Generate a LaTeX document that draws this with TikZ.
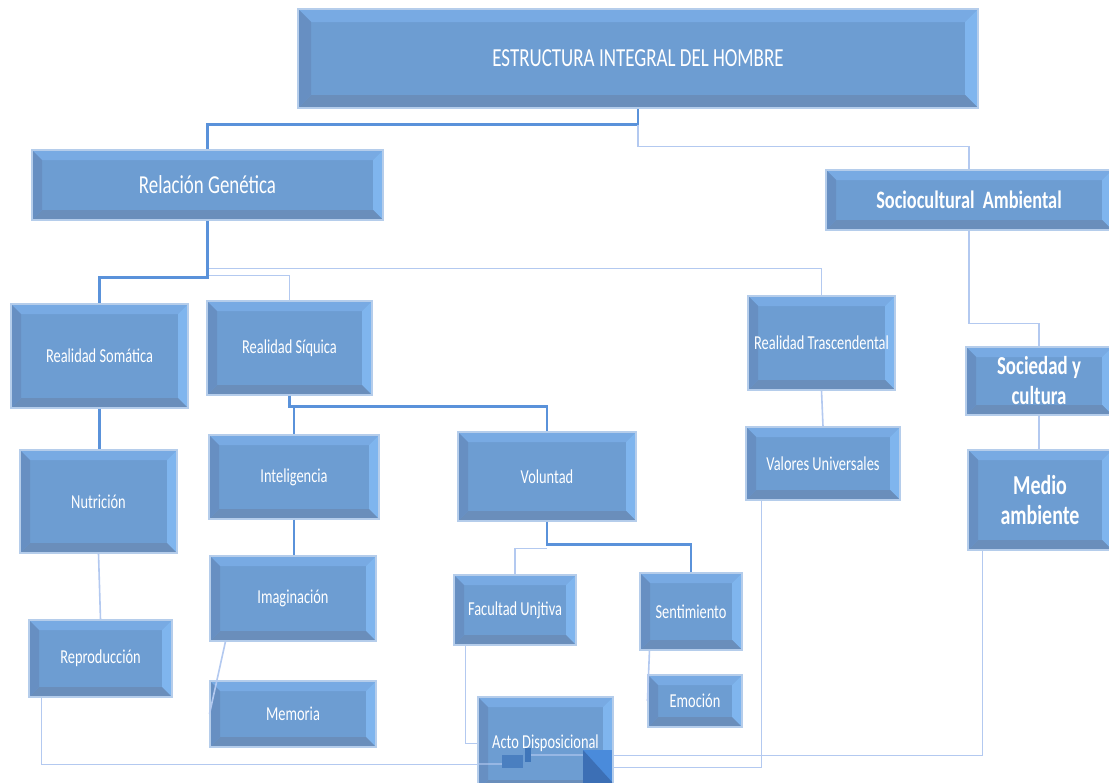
\documentclass[tikz,border=0pt]{standalone}
\usepackage{fontspec}
\setmainfont{Carlito}[FakeStretch=0.73]
\usetikzlibrary{calc}
\definecolor{mid}{HTML}{6D9DD2}
\definecolor{bvT}{HTML}{78AAE3}
\definecolor{bvR}{HTML}{7FB5EE}
\definecolor{bvB}{HTML}{6A8EBB}
\definecolor{bvL}{HTML}{678FC2}
\definecolor{bord}{HTML}{B5CDEB}
\definecolor{lineA}{HTML}{5A92DA}
\definecolor{lineB}{HTML}{B3C9F0}
\definecolor{sqA}{HTML}{4A8BDB}
\definecolor{sqB}{HTML}{3C6FB5}
\definecolor{sqC}{HTML}{4A7FC0}
\newcommand\bevel[1]{%
 \fill[bvT] (path picture bounding box.north west) -- (path picture bounding box.north east) -- ([shift={(-#1,-#1)}]path picture bounding box.north east) -- ([shift={(#1,-#1)}]path picture bounding box.north west) -- cycle;
 \fill[bvR] (path picture bounding box.north east) -- (path picture bounding box.south east) -- ([shift={(-#1,#1)}]path picture bounding box.south east) -- ([shift={(-#1,-#1)}]path picture bounding box.north east) -- cycle;
 \fill[bvB] (path picture bounding box.south east) -- (path picture bounding box.south west) -- ([shift={(#1,#1)}]path picture bounding box.south west) -- ([shift={(-#1,#1)}]path picture bounding box.south east) -- cycle;
 \fill[bvL] (path picture bounding box.south west) -- (path picture bounding box.north west) -- ([shift={(#1,-#1)}]path picture bounding box.north west) -- ([shift={(#1,#1)}]path picture bounding box.south west) -- cycle;
}
\tikzset{
 bev/.style={draw=bord, line width=0.8pt, fill=mid, inner sep=0pt, text=white, align=center,
   path picture={\bevel{#1}}},
 bev/.default=7.5pt,
 sm/.style={font=\fontsize{14.8}{17}\selectfont},
 bd/.style={font=\bfseries\fontsize{19.4}{22.5}\selectfont},
 tk/.style={draw=lineA, line width=2pt},
 tn/.style={draw=lineB, line width=1.2pt},
}
\newcommand\bx[7]{\node[bev,#7,minimum width={(#4-#2)*0.75pt},minimum height={(#5-#3)*0.75pt}] (#1) at ({(#2+#4)/2},{(#3+#5)/2}) {#6};}
\begin{document}
\begin{tikzpicture}[x=0.75pt,y=-0.75pt]
\useasboundingbox (0,0) rectangle (1109,782);
\clip (0,0) rectangle (1109,782);
\fill[white] (0,0) rectangle (1109,782);
% boxes
\bx{top}{298}{9}{978}{108}{ESTRUCTURA INTEGRAL DEL HOMBRE}{bev=9.75pt,font=\fontsize{19.5}{22}\selectfont}
\bx{rg}{32}{150}{383}{220}{Relación Genética}{font=\fontsize{19.4}{22}\selectfont}
\bx{sa}{826}{170}{1112}{230}{Sociocultural\ \ Ambiental}{font=\bfseries\fontsize{18.8}{22}\selectfont}
\bx{rs}{11}{304}{188}{408}{Realidad Somática}{sm}
\bx{rq}{207}{301}{372}{395}{Realidad Síquica}{sm}
\bx{rt}{748}{296}{895}{390}{Realidad Trascendental}{sm}
\bx{sc}{966}{347}{1112}{415}{Sociedad y\\cultura}{bd}
\bx{ma}{968}{450}{1112}{550}{Medio\\ambiente}{font=\bfseries\fontsize{20.5}{23.2}\selectfont}
\bx{nu}{20}{450}{177}{553}{Nutrición}{sm}
\bx{in}{209}{435}{379}{519}{Inteligencia}{sm}
\bx{vo}{458}{432}{636}{521}{Voluntad}{sm}
\bx{vu}{746}{427}{900}{500}{Valores Universales}{sm}
\bx{im}{210}{556}{376}{641}{Imaginación}{sm}
\bx{re}{29}{620}{172}{697}{Reproducción}{sm}
\bx{me}{210}{681}{376}{747}{Memoria}{sm}
\bx{fa}{454}{575}{576}{645}{Facultad Unjtiva}{sm}
\bx{se}{640}{573}{742}{650}{Sentimiento}{sm}
\bx{em}{648}{675}{742}{727}{Emoción}{sm}
\bx{ac}{478}{697}{613}{790}{Acto Disposicional}{sm}
% connectors
\draw[tk] (top.south) -- ++(0,16) coordinate (j1) -| (rg.north);
\draw[tn] (j1) -- ++(0,22) -| (sa.north);
\draw[tn] ($(rg.south)+(0,48)$) -| (rt.north);
\draw[tn] ($(rg.south)+(0,55)$) -| (rq.north);
\draw[tk] (rg.south) -- ++(0,57) -| (rs.north);
\draw[tk] (rs.south) -- (rs.south |- nu.north);
\draw[tn] (nu.south) -- (re.north);
\draw[tk] (rq.south) -- ++(0,11) coordinate (j2) -| (vo.north);
\draw[tk] (j2) -| (in.north);
\draw[tk] (in.south) -- (in.south |- im.north);
\draw[tn] ($(im.south west)+(16,0)$) -- (me.west);
\draw[tn] ($(vo.south)+(0,27)$) -| (fa.north);
\draw[tk] (vo.south) -- ++(0,23) -| (se.north);
\draw[tn] ($(se.south west)+(10,0)$) -- (em.west);
\draw[tn] ($(fa.south west)+(12,0)$) |- (ac.west);
\draw[tn] ($(re.south west)+(13,0)$) |- ($(ac.west)+(0,21)$);
\draw[tn] ($(ma.south west)+(15,0)$) |- ($(ac.east)+(0,12)$);
\draw[tn] ($(vu.south west)+(16,0)$) |- ($(ac.east)+(0,24)$);
\draw[tn] (rt.south) -- (vu.north);
\draw[tn] (sa.south) -- ++(0,93) -| (sc.north);
\draw[tn] (sc.south) -- (sc.south |- ma.north);
% overlay marks on Acto Disposicional
\draw[lineB, line width=1pt, opacity=0.6] (478,764) -- (502,764);
\draw[lineB, line width=1pt, opacity=0.6] (531,755) -- (583,755);
\fill[sqC] (502,755) rectangle (523,768);
\fill[sqA!85!black] (525,748) rectangle (531,762);
\fill[sqA] (583,750) rectangle (612,790);
\fill[sqB] (583,750) -- (612,782) -- (612,790) -- (583,790) -- cycle;
\end{tikzpicture}
\end{document}
